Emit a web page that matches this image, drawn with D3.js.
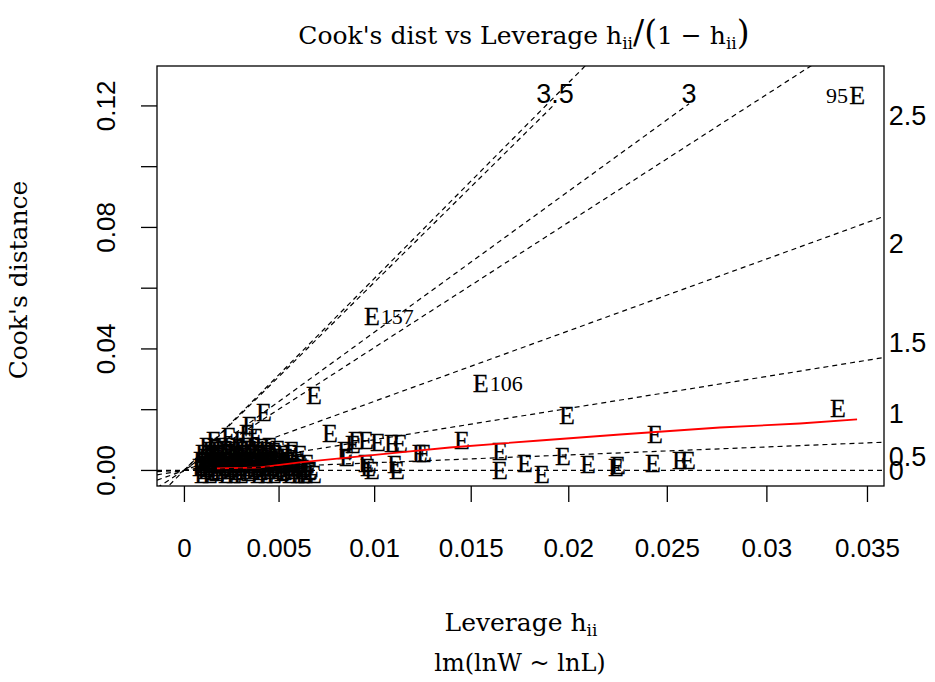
<!DOCTYPE html>
<html>
<head>
<meta charset="utf-8">
<script src="https://cdn.jsdelivr.net/npm/d3@7"></script>
<style>
  html, body { margin: 0; padding: 0; background: #fff; }
  svg { display: block; }
</style>
</head>
<body>
<svg id="chart" width="935" height="682"></svg>
<script>
// Leverage h_ii and Cook's distance for each observation of lm(lnW ~ lnL)
const leverage = [
  // scattered observations
  0.03451, 0.00988, 0.01552, 0.03356, 0.01993, 0.02440, 0.00686, 0.00423, 0.00349,
  0.00769, 0.00905, 0.00957, 0.01020, 0.01092, 0.01134, 0.01237, 0.01258, 0.01455,
  0.01650, 0.01650, 0.01779, 0.01866, 0.01973, 0.02100, 0.02243, 0.02253, 0.02430,
  0.02566, 0.02606, 0.00968, 0.00988, 0.00957, 0.01118, 0.01108, 0.00848, 0.00889,
  0.00628, 0.00686, 0.00858,
  // dense group at low leverage
  0.00096, 0.00138, 0.00175, 0.00223, 0.00265, 0.00302, 0.00344, 0.00391, 0.00434, 0.00476, 0.00518, 0.00560, 0.00602, 0.00644,
  0.00111, 0.00154, 0.00196, 0.00238, 0.00281, 0.00323, 0.00365, 0.00407, 0.00449, 0.00491, 0.00533, 0.00575, 0.00617, 0.00659,
  0.00085, 0.00127, 0.00170, 0.00212, 0.00254, 0.00297, 0.00339, 0.00386, 0.00423, 0.00465, 0.00507, 0.00549, 0.00591, 0.00628,
  0.00106, 0.00149, 0.00191, 0.00233, 0.00275, 0.00318, 0.00360, 0.00402, 0.00444, 0.00486, 0.00528, 0.00570, 0.00612,
  0.00090, 0.00133, 0.00175, 0.00217, 0.00260, 0.00302, 0.00344, 0.00381, 0.00423, 0.00465, 0.00507, 0.00549, 0.00591,
  0.00117, 0.00159, 0.00201, 0.00244, 0.00286, 0.00328, 0.00370, 0.00412, 0.00455, 0.00497, 0.00539,
  0.00101, 0.00143, 0.00186, 0.00228, 0.00270, 0.00312, 0.00355, 0.00397, 0.00439, 0.00481, 0.00523, 0.00565,
  0.00138, 0.00180, 0.00223, 0.00265, 0.00307, 0.00349, 0.00391, 0.00434, 0.00476,
  0.00122, 0.00164, 0.00201, 0.00244, 0.00286, 0.00328, 0.00370, 0.00412, 0.00455, 0.00497,
  0.00159, 0.00238, 0.00302, 0.00381, 0.00333, 0.00612, 0.00649, 0.00665, 0.00570
];
const cooksD = [
  0.1249, 0.0523, 0.0302, 0.0220, 0.0197, 0.0132, 0.0263, 0.0204, 0.0164,
  0.0138, 0.0115, 0.0112, 0.0108, 0.0105, 0.0105, 0.0072, 0.0072, 0.0115,
  0.0076, 0.0016, 0.0039, 0.0000, 0.0062, 0.0036, 0.0026, 0.0030, 0.0039,
  0.0046, 0.0046, 0.0023, 0.0016, 0.0039, 0.0016, 0.0036, 0.0082, 0.0099,
  0.0000, 0.0003, 0.0059,
  0.0003, 0.0000, 0.0007, 0.0000, 0.0003, 0.0000, 0.0007, 0.0000, 0.0003, 0.0000, 0.0007, 0.0000, 0.0003, 0.0000,
  0.0013, 0.0010, 0.0016, 0.0013, 0.0010, 0.0016, 0.0013, 0.0010, 0.0016, 0.0013, 0.0010, 0.0016, 0.0013, 0.0010,
  0.0023, 0.0020, 0.0026, 0.0023, 0.0020, 0.0026, 0.0023, 0.0020, 0.0026, 0.0023, 0.0020, 0.0026, 0.0023, 0.0020,
  0.0036, 0.0033, 0.0039, 0.0036, 0.0033, 0.0039, 0.0036, 0.0033, 0.0039, 0.0036, 0.0033, 0.0039, 0.0036,
  0.0046, 0.0043, 0.0049, 0.0046, 0.0043, 0.0049, 0.0046, 0.0043, 0.0049, 0.0046, 0.0043, 0.0046, 0.0049,
  0.0059, 0.0056, 0.0062, 0.0059, 0.0056, 0.0062, 0.0059, 0.0056, 0.0062, 0.0059, 0.0056,
  0.0069, 0.0066, 0.0072, 0.0069, 0.0066, 0.0072, 0.0069, 0.0066, 0.0072, 0.0069, 0.0066, 0.0069,
  0.0082, 0.0079, 0.0085, 0.0082, 0.0079, 0.0085, 0.0082, 0.0079, 0.0076,
  0.0092, 0.0089, 0.0095, 0.0092, 0.0089, 0.0095, 0.0092, 0.0089, 0.0092, 0.0085,
  0.0112, 0.0125, 0.0115, 0.0122, 0.0138, 0.0066, 0.0039, 0.0016, 0.0079
];
// observations picked out by number
const idIndex = [0, 1, 2];
const idLabels = ["95", "157", "106"];

// smoothed trend of Cook's distance against leverage
const smoothLev = [0.00175, 0.00402, 0.00612, 0.00874, 0.01134, 0.01392, 0.01855, 0.02263, 0.02767, 0.03167, 0.03451];
const smoothD   = [0.00066, 0.00099, 0.00263, 0.00427, 0.00592, 0.00756, 0.00986, 0.01183, 0.01414, 0.01545, 0.01680];

// x axis: leverage ticks, drawn at h/(1-h)
const levTicks = [0, 0.005, 0.01, 0.015, 0.02, 0.025, 0.03, 0.035];
const cookTicks = [0, 0.02, 0.04, 0.06, 0.08, 0.10, 0.12];
const cookTickLabels = ["0.00", "", "0.04", "", "0.08", "", "0.12"];

// contours of constant standardized residual; p = model rank
const contourLevels = [0, 0.5, 1, 1.5, 2, 2.5, 3, 3.5];
const contourLabels = ["0", "0.5", "1", "1.5", "2", "2.5", "3", "3.5"];
const rankP = 2;

const W = 935, H = 682;
const box = { left: 157, right: 884, top: 66, bottom: 486 };
const svg = d3.select("#chart");
svg.append("rect").attr("width", W).attr("height", H).attr("fill", "#fff");

const toG = h => h / (1 - h);
const gVals = leverage.map(toG);
const gMax = d3.max(gVals);
const dMax = d3.max(cooksD) * 1.025;

const x = d3.scaleLinear().domain([-0.04 * gMax, 1.04 * gMax]).range([box.left, box.right]);
const y = d3.scaleLinear().domain([-0.04 * dMax, 1.04 * dMax]).range([box.bottom, box.top]);

svg.append("defs").append("clipPath").attr("id", "plotclip")
  .append("rect").attr("x", box.left).attr("y", box.top)
  .attr("width", box.right - box.left).attr("height", box.bottom - box.top);

const plot = svg.append("g").attr("clip-path", "url(#plotclip)");

// points drawn as the character "E"
plot.selectAll("text.pt").data(leverage).join("text")
  .attr("class", "pt")
  .attr("x", (d, i) => x(gVals[i]))
  .attr("y", (d, i) => y(cooksD[i]) + 13)
  .attr("text-anchor", "middle")
  .attr("font-family", "Liberation Serif, serif")
  .attr("font-size", 26)
  .attr("fill", "#000")
  .attr("stroke", "#000").attr("stroke-width", 0.3)
  .text("E");

// smoother
const line = d3.line().x((d, i) => x(toG(smoothLev[i]))).y((d, i) => y(smoothD[i]));
plot.append("path").datum(smoothLev).attr("d", line)
  .attr("fill", "none").attr("stroke", "#ff0000").attr("stroke-width", 1.8);

// contour lines
const [ux0, ux1] = x.domain();
const [uy0, uy1] = y.domain();
const xi = ux1 + 0.00025;
const topY = 0.1207;
const dash = "5,4";
contourLevels.forEach((b, i) => {
  const b2 = b * b;
  if (rankP * uy1 > b2 * ux1) {
    plot.append("line")
      .attr("x1", x(ux0)).attr("y1", y(b2 * ux0))
      .attr("x2", x(ux1)).attr("y2", y(b2 * ux1))
      .attr("stroke", "#000").attr("stroke-width", 1.2).attr("stroke-dasharray", dash);
    svg.append("text")
      .attr("x", x(xi)).attr("y", y(b2 * xi / rankP))
      .attr("dy", "0.35em")
      .attr("font-family", "Liberation Sans, sans-serif").attr("font-size", 27)
      .text(contourLabels[i]);
  } else {
    const xe = rankP * topY / b2;
    plot.append("line")
      .attr("x1", x(0)).attr("y1", y(0))
      .attr("x2", x(xe)).attr("y2", y(topY))
      .attr("stroke", "#000").attr("stroke-width", 1.2).attr("stroke-dasharray", dash);
    svg.append("text")
      .attr("x", x(xe)).attr("y", y(topY) - 1)
      .attr("text-anchor", "middle")
      .attr("font-family", "Liberation Sans, sans-serif").attr("font-size", 27)
      .text(contourLabels[i]);
  }
});

// id labels
idIndex.forEach((k, j) => {
  const px = x(gVals[k]);
  const right = gVals[k] > (ux0 + ux1) / 2;
  svg.append("text")
    .attr("x", right ? px - 9 : px + 9)
    .attr("y", y(cooksD[k]) + 12)
    .attr("text-anchor", right ? "end" : "start")
    .attr("font-family", "Liberation Serif, serif").attr("font-size", 22)
    .text(idLabels[j]);
});

// frame
svg.append("rect").attr("x", box.left).attr("y", box.top)
  .attr("width", box.right - box.left).attr("height", box.bottom - box.top)
  .attr("fill", "none").attr("stroke", "#000").attr("stroke-width", 1.3);

// x axis
const xAxis = d3.axisBottom(x)
  .tickValues(levTicks.map(toG))
  .tickFormat((d, i) => String(levTicks[i]))
  .tickSize(16).tickSizeOuter(0).tickPadding(37);
const gx = svg.append("g").attr("transform", `translate(0,${box.bottom})`).call(xAxis);
gx.select(".domain").remove();
gx.selectAll("line").attr("stroke", "#000").attr("stroke-width", 1.3);
gx.selectAll("text").attr("font-family", "Liberation Sans, sans-serif").attr("font-size", 26).attr("fill", "#000");

// y axis
const yAxis = d3.axisLeft(y)
  .tickValues(cookTicks)
  .tickFormat((d, i) => cookTickLabels[i])
  .tickSize(16).tickSizeOuter(0);
const gy = svg.append("g").attr("transform", `translate(${box.left},0)`).call(yAxis);
gy.select(".domain").remove();
gy.selectAll("line").attr("stroke", "#000").attr("stroke-width", 1.3);
gy.selectAll(".tick").attr("transform", null);
gy.selectAll(".tick line").attr("transform", d => `translate(0,${y(d)})`);
gy.selectAll(".tick text")
  .attr("font-family", "Liberation Sans, sans-serif").attr("font-size", 26).attr("fill", "#000")
  .attr("text-anchor", "middle").attr("x", 0).attr("y", 0).attr("dy", 0)
  .attr("dominant-baseline", "middle")
  .attr("transform", d => `translate(-49,${y(d)}) rotate(-90)`);

// titles
const serif = "DejaVu Serif, serif";
const title = svg.append("text").attr("x", 524).attr("y", 44)
  .attr("text-anchor", "middle").attr("font-family", serif).attr("font-size", 25);
title.append("tspan").text("Cook's dist vs Leverage  h");
title.append("tspan").attr("font-size", 17).attr("dy", 5).text("ii");
title.append("tspan").attr("font-size", 33).attr("dy", -5).text("/(");
title.append("tspan").text("1 \u2212 h");
title.append("tspan").attr("font-size", 17).attr("dy", 5).text("ii");
title.append("tspan").attr("font-size", 33).attr("dy", -5).text(")");

const xt = svg.append("text").attr("x", 521).attr("y", 631)
  .attr("text-anchor", "middle").attr("font-family", serif).attr("font-size", 25);
xt.append("tspan").text("Leverage  h");
xt.append("tspan").attr("font-size", 17).attr("dy", 5).text("ii");

svg.append("text").attr("x", 520).attr("y", 671)
  .attr("text-anchor", "middle").attr("font-family", serif).attr("font-size", 24)
  .text("lm(lnW ~ lnL)");

svg.append("text")
  .attr("transform", "translate(27,280) rotate(-90)")
  .attr("text-anchor", "middle").attr("font-family", serif).attr("font-size", 25)
  .text("Cook's distance");
</script>
</body>
</html>
